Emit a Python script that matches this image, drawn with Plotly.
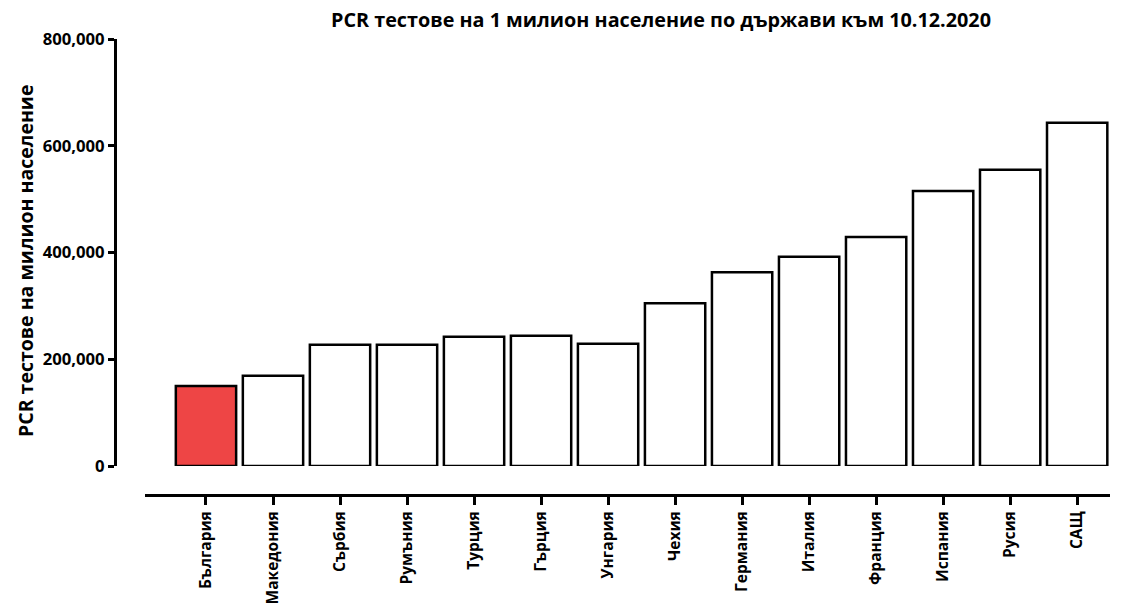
import plotly.graph_objects as go

countries = ["България", "Македония", "Сърбия", "Румъния", "Турция", "Гърция", "Унгария",
             "Чехия", "Германия", "Италия", "Франция", "Испания", "Русия", "САЩ"]
tests_per_million = [150000, 169000, 227000, 227000, 242000, 244000, 229000,
                     305000, 363000, 392000, 429000, 515000, 555000, 643000]
bar_colors = ["#EE4545"] + ["#FFFFFF"] * 13

title_text = "PCR тестове на 1 милион население по държави към 10.12.2020"
y_title = "PCR тестове на милион население"
y_ticks = [0, 200000, 400000, 600000, 800000]

FONT = "Open Sans"

fig = go.Figure(go.Bar(
    x=countries,
    y=tests_per_million,
    marker=dict(color=bar_colors, line=dict(color="black", width=2.5)),
    width=0.9,
))

W, H = 1128, 609
ml, mr, mt, mb = 115, 18, 39, 114
pw = W - ml - mr
ph = H - mt - mb

fig.update_layout(
    width=W, height=H,
    margin=dict(l=ml, r=mr, t=mt, b=mb, pad=0, autoexpand=False),
    plot_bgcolor="white", paper_bgcolor="white",
    font=dict(family=FONT, color="black"),
    showlegend=False,
    title=dict(text="<b>" + title_text + "</b>", x=661 / W, xanchor="center",
               y=1 - 20 / H, yanchor="middle", xref="container", yref="container",
               font=dict(size=19.8, family=FONT)),
    xaxis=dict(
        domain=[30 / pw, 1],
        anchor="free", position=0,
        range=[-0.91, 13.49],
        showline=True, linewidth=3, linecolor="black",
        ticks="outside", ticklen=8, tickwidth=2.5, tickcolor="black",
        tickangle=-90, automargin=False,
        tickfont=dict(size=15.5, family=FONT, weight="bold"),
        showgrid=False, zeroline=False, fixedrange=True,
    ),
    yaxis=dict(
        domain=[(495 - 466) / ph, 1],
        anchor="free", position=0,
        range=[0, 800000],
        tickvals=y_ticks, tickformat=",d", automargin=False,
        showline=True, linewidth=3, linecolor="black",
        ticks="outside", ticklen=6, tickwidth=3, tickcolor="black",
        tickfont=dict(size=16.7, family=FONT, weight="bold"),
        showgrid=False, zeroline=False, fixedrange=True,
    ),
    annotations=[dict(
        text="<b>" + y_title + "</b>", textangle=-90,
        xref="paper", yref="paper",
        x=(25 - ml) / pw, y=1 - (261 - mt) / ph,
        xanchor="center", yanchor="middle", showarrow=False,
        font=dict(size=19.5, family=FONT),
    )],
)

fig.write_html(
    "out.html",
    config={"displayModeBar": False},
    post_script="document.body.style.margin='0';document.body.style.overflow='hidden';",
)
